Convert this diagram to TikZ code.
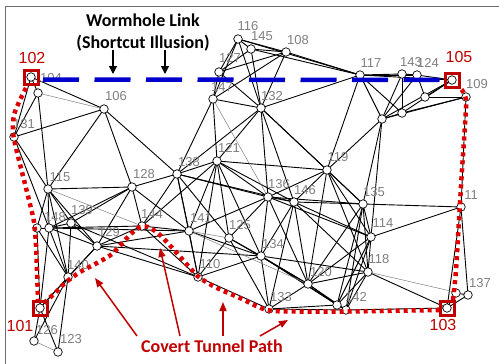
\documentclass[tikz,border=0pt]{standalone}
\usepackage{fontspec}
\setmainfont{Liberation Sans}
\newfontfamily\calib{Carlito}
\usetikzlibrary{arrows.meta}
\definecolor{lbgray}{RGB}{128,128,128}
\definecolor{dotred}{RGB}{220,0,0}
\definecolor{sqred}{RGB}{192,0,0}
\definecolor{wblue}{RGB}{0,0,204}
\definecolor{txtred}{RGB}{192,0,0}
\definecolor{framec}{RGB}{110,110,110}
\tikzset{
  nd/.style={circle, draw=black, fill=white, inner sep=0pt, minimum size=8.5pt, line width=0.7pt},
  lb/.style={text=lbgray, font=\fontsize{13}{14}\selectfont, inner sep=0pt},
  rlb/.style={text=txtred, font=\fontsize{16}{17}\selectfont, inner sep=0pt},
  ed/.style={black, line width=0.9pt},
  ge/.style={lbgray, line width=0.5pt},
  sq/.style={rectangle, draw=sqred, line width=3pt, minimum size=14pt, inner sep=0pt},
  wlink/.style={wblue, line width=4.5pt, dash pattern=on 36pt off 15.5pt},
  tunnel/.style={dotred, line width=4.5pt, dash pattern=on 4pt off 4pt},
  title/.style={font=\calib\bfseries\fontsize{18}{20}\selectfont, inner sep=0pt},
  barrow/.style={black, line width=1.2pt, -{Triangle[length=8pt,width=8pt]}},
  rarrow/.style={txtred, line width=1.5pt, -{Triangle[length=9pt,width=7pt]}},
}
\begin{document}
\begin{tikzpicture}[x=1pt,y=-1pt]
\useasboundingbox (0,0) rectangle (499,364);
\fill[white] (0,0) rectangle (499,364);
\draw[framec, line width=1pt] (5,364) -- (5,6) -- (499,6);

% nodes
\foreach \n/\x/\y in {102/31/77, A/38/93, 106/104/109, 131/14/137, 115/48/189, 128/132/187,
  138/177/174, 121/217/161, 147/213/99, 127/219/72, 116/238/39, 145/251/49, 108/286/52,
  132/261/108, 117/360/75, 143/402/74, 124/417/75, 105/452/80, 109/466/97, C/425/97,
  D/402/113, E/382/119, 119/327/170, 136/268/197, 146/294/202, 135/363/204, 111/461/207,
  114/371/237, 139/71/223, 148/49/228, B/37/228, 144/142/226, 129/97/246, 141/189/231,
  125/229/238, 110/198/277, 140/68/277, 134/261/256, 118/368/272, 120/308/284, 133/269/309,
  F/337/305, 142/346/310, 103/447/308, 137/468/295, G/456/293, 101/40/308, 126/34/341, 123/58/352}
  \coordinate (n\n) at (\x,\y);

% edges
\foreach \a/\b in {102/A, 102/106, 102/131, A/131, A/115, 131/106, 131/115, 131/148, 106/115,
  106/128, 106/138, 115/128, 115/139, 115/148, 115/129, 115/140, 115/B, 128/138, 128/139,
  128/148, 128/144, 128/129, 128/141, 138/121, 138/144, 138/141, 138/110, 138/125, 138/136,
  138/146, 138/132, 138/147, 148/144, 148/141, 148/139, 148/129, 148/140, B/148, B/101, B/140,
  139/129, 139/110, 139/140, 144/129, 144/141, 144/110, 144/121, 129/141, 129/110, 129/140,
  129/134, 141/121, 141/110, 141/134, 141/136, 140/101, 140/123, 140/126, 101/148, 101/126,
  101/123, 101/129, 116/145, 116/108, 116/127, 116/147, 116/132, 116/117, 145/108, 145/127,
  145/132, 145/117, 108/127, 108/147, 108/117, 108/132, 127/147, 127/132, 147/121, 147/132,
  132/117, 132/121, 132/136, 132/146, 132/119, 132/135, 117/143, 117/124, 117/105, 117/119,
  117/E, 117/D, 143/124, 143/E, 143/D, 124/105, 124/C, 124/E, C/105, C/109, D/105, D/E, D/109,
  E/109, E/105, E/135, E/114, E/119, 119/121, 119/136, 119/146, 119/114, 119/118, 119/120,
  119/135, 121/136, 121/146, 121/125, 121/134, 121/110, 136/146, 136/135, 136/125, 136/134,
  136/114, 136/120, 146/135, 146/134, 146/114, 146/118, 146/120, 146/133, 135/111, 135/114,
  135/118, 135/142, 135/120, 135/F, 114/111, 114/118, 114/120, 114/F, 114/142, 118/103,
  118/120, 118/F, 118/142, 118/134, 134/125, 134/120, 134/133, 134/142, 134/F, 134/110,
  120/133, 120/F, 120/142, 133/142, 133/F, 142/103, F/142, 111/103, 111/137, 137/103, G/103,
  G/137, 111/109, 125/110, 125/133, 110/133, 125/120}
  \draw[ed] (n\a) -- (n\b);
\foreach \a/\b in {A/106, 115/144, 141/125, 147/136, 126/123, 118/137, 141/120}
  \draw[ge] (n\a) -- (n\b);

% node circles
\foreach \n in {102, A, 106, 131, 115, 128, 138, 121, 147, 127, 116, 145, 108, 132, 117, 143,
  124, 105, 109, C, D, E, 119, 136, 146, 135, 111, 114, 139, 148, B, 144, 129, 141, 125, 110,
  140, 134, 118, 120, 133, F, 142, 103, 137, G, 101, 126, 123}
  \node[nd] (c\n) at (n\n) {};

% node labels
\foreach \n/\x/\y in {104/51/78, 106/116/96, 131/24/124, 115/60/177, 128/144/174, 138/189/162,
  121/229/148, 139/82/210, 148/55/217, 144/152/214, 129/109/232, 141/201/218, 125/240/225,
  110/210/264, 140/78/265, 116/248/26, 145/262/36, 108/298/40, 127/230/58, 147/222/87,
  132/272/96, 117/371/63, 143/411/62, 124/428/63, 109/477/84, 119/338/157, 136/279/184,
  146/305/190, 135/374/192, 114/383/223, 134/273/244, 118/379/259, 120/321/272, 133/281/297,
  142/356/297, 137/480/283, 126/47/330, 123/71/339}
  \node[lb] (l\n) at (\x,\y) {\n};
\node[lb] (l111) at (471,195) {11};

% wormhole link
\coordinate (wA) at (43,79.5);
\coordinate (wB) at (442,80);
\draw[wlink] (wA) -- (wB);

% covert tunnel path
\draw[tunnel] plot[smooth] coordinates {(26,88) (20,100) (14,115) (13,132) (16,148) (22,172)
  (29,200) (34,222) (36,245) (37,270) (38,300)};
\draw[tunnel] plot[smooth] coordinates {(44,303) (55,293) (65,283) (80,272) (97,263) (112,254)
  (127,238) (138,228) (148,227) (160,235) (175,251) (190,268) (200,278) (217,288) (240,298)
  (267,310) (300,311.5) (347,311.5) (440,310)};
\draw[tunnel] plot[smooth] coordinates {(453,300) (456,270) (459,220) (462,170) (465,125)
  (466,100) (462,90) (458,86)};

% attacker squares
\foreach \n in {102, 101, 103, 105}
  \node[sq] (s\n) at (n\n) {};
\node[rlb] (r102) at (32,58) {102};
\node[rlb] (r105) at (459,57) {105};
\node[rlb] (r101) at (20,326) {101};
\node[rlb] (r103) at (443,325) {103};

% titles
\node[title] (t1) at (143,20) {Wormhole Link};
\node[title] (t2) at (143,43) {(Shortcut Illusion)};
\coordinate (a1s) at (113,50); \coordinate (a1e) at (113,74);
\coordinate (a2s) at (165,50); \coordinate (a2e) at (165,74);
\draw[barrow] (a1s) -- (a1e);
\draw[barrow] (a2s) -- (a2e);

\node[title, text=txtred] (t3) at (212,346) {Covert Tunnel Path};
\coordinate (b1s) at (137,336); \coordinate (b1e) at (95,278);
\coordinate (b2s) at (180,336); \coordinate (b2e) at (160,248);
\coordinate (b3s) at (223,336); \coordinate (b3e) at (223,302);
\coordinate (b4s) at (260,336); \coordinate (b4e) at (288,320);
\draw[rarrow] (b1s) -- (b1e);
\draw[rarrow] (b2s) -- (b2e);
\draw[rarrow] (b3s) -- (b3e);
\draw[rarrow] (b4s) -- (b4e);
\end{tikzpicture}
\end{document}
